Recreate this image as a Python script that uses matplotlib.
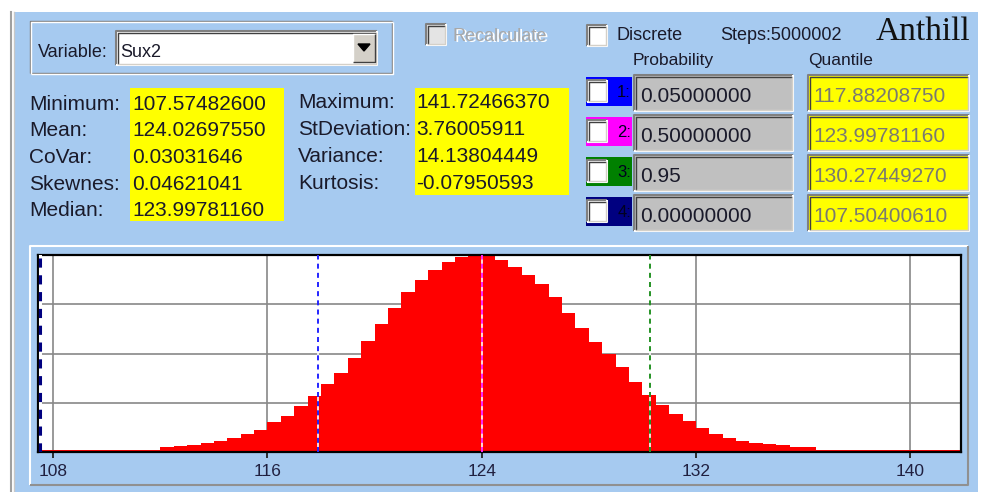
import numpy as np
import matplotlib
matplotlib.use("Agg")
import matplotlib.pyplot as plt
from matplotlib.patches import Rectangle, Polygon

# values
variable = "Sux2"
steps = "Steps:5000002"
left_labels = ["Minimum:", "Mean:", "CoVar:", "Skewnes:", "Median:"]
left_values = ["107.57482600", "124.02697550", "0.03031646", "0.04621041", "123.99781160"]
mid_labels = ["Maximum:", "StDeviation:", "Variance:", "Kurtosis:"]
mid_values = ["141.72466370", "3.76005911", "14.13804449", "-0.07950593"]
prob_values = ["0.05000000", "0.50000000", "0.95", "0.00000000"]
quantile_values = [117.88208750, 123.99781160, 130.27449270, 107.50400610]
quantile_colors = ["#0000ff", "#ff00ff", "#008000", "#000080"]
xticks = [108, 116, 124, 132, 140]

# histogram, relative heights of 0.5 wide bins starting at 107.5
bin_start = 107.5
bin_width = 0.5
bin_heights = [0.008, 0.008, 0.008, 0.008, 0.008, 0.008, 0.008, 0.008, 0.008,
               0.027, 0.030, 0.038, 0.048, 0.058, 0.072, 0.092, 0.112, 0.150,
               0.185, 0.235, 0.285, 0.345, 0.400, 0.475, 0.565, 0.650, 0.730,
               0.810, 0.875, 0.925, 0.965, 0.990, 1.000, 1.000, 0.975, 0.940,
               0.900, 0.855, 0.785, 0.705, 0.630, 0.560, 0.495, 0.430, 0.355,
               0.290, 0.240, 0.195, 0.155, 0.120, 0.090, 0.072, 0.058, 0.048,
               0.040, 0.033, 0.027, 0.024, 0.010, 0.008, 0.008, 0.008, 0.008,
               0.008, 0.008, 0.008, 0.008, 0.008, 0.008]

W, H = 983, 492
BG = "#a6caf0"
TXT = "#1a1a2a"
FONT = "Liberation Sans"

fig = plt.figure(figsize=(W / 100, H / 100), dpi=100)
fig.patch.set_facecolor("white")
bg = fig.add_axes([0, 0, 1, 1])
bg.set_xlim(0, W)
bg.set_ylim(H, 0)
bg.axis("off")


def rect(x, y, w, h, fc, ec="none", lw=0, z=1):
    bg.add_patch(Rectangle((x, y), w, h, facecolor=fc, edgecolor=ec, lw=lw, zorder=z))


def bevel(x, y, w, h, tl, br, lw=1.2, z=2):
    bg.plot([x, x, x + w], [y + h, y, y], color=tl, lw=lw, zorder=z, solid_capstyle="butt")
    bg.plot([x, x + w, x + w], [y + h, y + h, y], color=br, lw=lw, zorder=z, solid_capstyle="butt")


def sunken(x, y, w, h, fc, z=1):
    rect(x, y, w, h, fc, z=z)
    bevel(x, y, w, h, "#808080", "#ffffff", lw=1.5, z=z + 1)
    bevel(x + 1.5, y + 1.5, w - 3, h - 3, "#404040", "#d4d0c8", lw=1.0, z=z + 1)


def label(x, y, s, size=15, color=TXT, ha="left", family=FONT, z=6):
    bg.text(x, y, s, fontsize=size, color=color, ha=ha, va="baseline", family=family, zorder=z)


# window background
rect(15, 12, 963, 480, BG, z=0)
bg.plot([11, 11], [12, H], color="#a0a0a0", lw=1.5)
bg.plot([14, 14], [12, H], color="#c8c8c8", lw=1.0)

# variable group box
bevel(30, 21, 362, 52, "#808080", "#808080", lw=1.0)
bevel(31, 22, 362, 52, "#ffffff", "#ffffff", lw=1.0)
label(38, 57, "Variable:", size=13)
sunken(116, 31, 261, 34, "white")
label(120, 57, variable, size=13)
rect(353, 34, 22, 28, "#d4d0c8", z=3)
bevel(353, 34, 22, 28, "#ffffff", "#404040", lw=1.0, z=4)
bg.add_patch(Polygon([[358, 44], [370, 44], [364, 51]], closed=True, color="black", zorder=5))

# checkboxes and header
sunken(426, 24, 20, 21, "#e4e4e4")
label(454, 42, "Recalculate", size=13, color="white")
label(453, 41, "Recalculate", size=13, color="#a8a8a8")
sunken(587, 25, 20, 21, "white")
label(616, 40, "Discrete", size=13)
label(720, 40, steps, size=13)
label(970, 40, "Anthill", size=24, ha="right", family="Liberation Serif", color="#111111")
label(633, 65, "Probability", size=12.5)
label(808, 65, "Quantile", size=12.5)

# statistics
rect(130, 88, 154, 133, "#ffff00")
rect(415, 88, 154, 107, "#ffff00")
for i, (lab, val) in enumerate(zip(left_labels, left_values)):
    yb = 109.5 + i * 26.7
    label(29, yb, lab)
    label(132, yb, val)
for i, (lab, val) in enumerate(zip(mid_labels, mid_values)):
    yb = 108.5 + i * 26.7
    label(298, yb, lab)
    label(416, yb, val)

# probability / quantile rows
for i, (p, q, c) in enumerate(zip(prob_values, quantile_values, quantile_colors)):
    y0 = 75 + i * 40
    rect(586, y0 + 2, 46, 29, c, z=2)
    sunken(587, y0 + 5, 20, 22, "white", z=3)
    label(631, y0 + 22, "%d:" % (i + 1), size=12, ha="right", color="#000020")
    sunken(634, y0, 159, 36, "#c0c0c0")
    label(640, y0 + 27, p)
    sunken(808, y0, 161, 36, "#ffff00")
    label(813, y0 + 27, "%.8f" % q, color="#7a7a70")

# chart panel
bevel(30, 246, 938, 239, "#ffffff", "#909090", lw=1.5)

ax = fig.add_axes([38 / W, 1 - 452 / H, (961 - 38) / W, (452 - 255) / H])
ax.set_facecolor("white")
edges = bin_start + bin_width * np.arange(len(bin_heights))
ax.bar(edges, bin_heights, width=bin_width, align="edge", color="#ff0000", lw=0, zorder=2)
ax.set_xlim(107.43, 141.9)
ax.set_ylim(0, 1)
ax.set_axisbelow(True)
ax.set_xticks(xticks)
ax.set_yticks([0.25, 0.5, 0.75])
ax.grid(True, color="#888888", lw=1.2)
ax.tick_params(axis="x", direction="out", length=4, width=1.3, color="#202020",
               labelsize=12.5, labelcolor="#202040", pad=5)
ax.tick_params(axis="y", length=0, labelleft=False)
for lab in ax.get_xticklabels():
    lab.set_family(FONT)
for s in ax.spines.values():
    s.set_linewidth(1.6)
    s.set_color("black")

for q, c in zip(quantile_values, quantile_colors):
    lw = 2.2 if c == "#000080" else 1.2
    ax.axvline(q, color="white", lw=lw, zorder=3)
    ax.axvline(q, color=c, lw=lw, ls=(0, (3, 2.5)), zorder=4)

fig.savefig("out.png", dpi=100, facecolor=fig.get_facecolor())
